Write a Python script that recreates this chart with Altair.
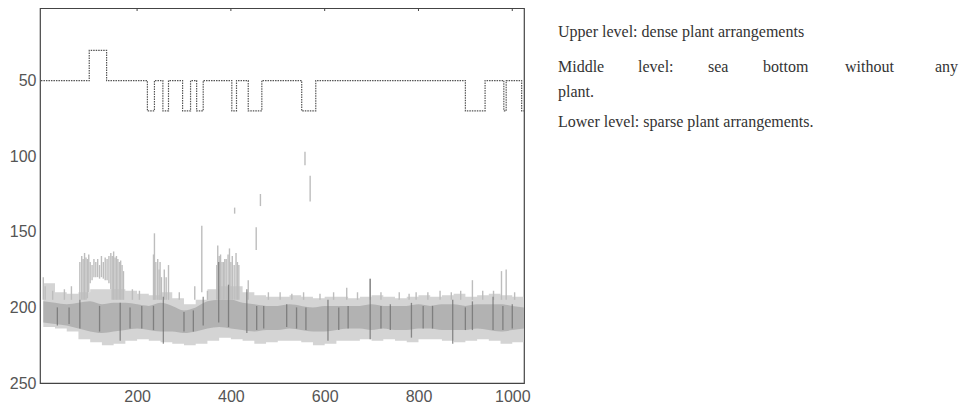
import altair as alt
import pandas as pd

# ---- step line (classification levels) ----
step_x = [-5, 98, 135, 222, 237, 255, 267, 297, 314, 327, 341, 402, 412, 437, 466,
          551, 581, 900, 942, 982, 987, 1020, 1025]
step_level = [50, 30, 50, 70, 50, 70, 50, 70, 50, 70, 50, 70, 50, 70, 50,
              70, 50, 70, 50, 70, 50, 70, 70]

# ---- echo band envelopes ----
band_x = [0, 25, 50, 75, 100, 125, 150, 175, 200, 225, 250, 275, 300, 325, 350, 375, 400,
          425, 450, 475, 500, 525, 550, 575, 600, 625, 650, 675, 700, 725, 750, 775, 800,
          825, 850, 875, 900, 925, 950, 975, 1000, 1025]
band_top = [184, 190, 191, 190, 188, 188, 188, 189, 191, 192, 190, 194, 198, 195, 188, 186, 186,
            190, 192, 193, 193, 192, 193, 194, 193, 193, 194, 193, 192, 193, 194, 193, 192,
            193, 192, 191, 193, 192, 191, 192, 193, 194]
band_bottom = [213, 214, 216, 221, 223, 225, 224, 222, 221, 222, 223, 224, 225, 224, 222, 220, 221,
               222, 224, 223, 222, 222, 223, 225, 224, 222, 222, 221, 222, 221, 222, 223, 221,
               221, 222, 223, 222, 221, 222, 224, 223, 222]
core_top = [196, 197, 198, 197, 196, 198, 197, 197, 198, 199, 197, 199, 202, 200, 196, 195, 195,
            197, 198, 199, 199, 198, 199, 200, 199, 199, 199, 199, 198, 199, 199, 199, 198,
            199, 198, 198, 199, 198, 198, 198, 199, 200]
core_bottom = [210, 211, 212, 214, 216, 217, 216, 215, 214, 215, 216, 216, 217, 216, 214, 213, 214,
               215, 216, 215, 215, 214, 215, 216, 216, 215, 214, 214, 215, 214, 215, 215, 214,
               214, 215, 215, 215, 214, 215, 216, 215, 214]

# ---- light vertical echoes rising above the band ----
spike_x = [0, 4, 78, 82, 85, 88, 91, 94, 97, 100, 104, 108, 112, 116, 120, 124, 128, 132, 136,
           140, 144, 147, 150, 153, 156, 159, 162, 165, 168, 171,
           235, 237, 240, 244, 247, 249, 252, 258, 262, 267, 323, 338,
           370, 372, 375, 378, 381, 384, 387, 390, 394, 397, 400, 403, 407, 411, 414, 417,
           408, 437, 454, 463, 555, 558, 569, 619, 647, 697, 759, 795, 846, 915, 937, 977, 987,
           20, 45, 60, 190, 205, 290, 350, 480, 505, 530, 590, 670, 720, 780, 820, 870, 890, 960, 1005]
spike_top = [180, 186, 170, 166, 168, 164, 167, 168, 165, 170, 172, 168, 170, 168, 172, 166, 170, 167, 168,
             166, 164, 166, 163, 167, 166, 168, 170, 169, 172, 176,
             165, 151, 170, 168, 175, 170, 180, 175, 180, 172, 186, 146,
             172, 159, 166, 165, 170, 170, 168, 168, 165, 161, 170, 166, 172, 164, 170, 172,
             134, 182, 147, 125, 190, 97, 113, 190, 187, 181, 190, 190, 189, 182, 189, 176, 175,
             189, 188, 186, 188, 189, 190, 189, 190, 190, 191, 191, 190, 190, 191, 190, 190, 189, 189, 190]
spike_bottom = [195, 195, 195, 195, 195, 195, 195, 194, 190, 184, 182, 180, 180, 180, 181, 180, 181, 182, 182,
                184, 188, 195, 195, 195, 195, 195, 195, 195, 195, 195,
                195, 195, 195, 195, 195, 195, 195, 195, 195, 195, 195, 190,
                195, 195, 195, 195, 195, 195, 195, 195, 195, 195, 195, 195, 195, 195, 195, 195,
                138, 195, 162, 133, 195, 106, 130, 195, 195, 195, 195, 195, 195, 195, 195, 195, 195,
                195, 195, 195, 195, 195, 195, 195, 195, 195, 195, 195, 195, 195, 195, 195, 195, 195, 195, 195]

# ---- darker vertical streaks inside the band ----
streak_x = [78, 164, 256, 341, 374, 434, 519, 607, 697, 785, 873, 959,
            30, 120, 210, 300, 395, 470, 560, 650, 740, 830, 915, 1000,
            55, 185, 235, 320, 455, 540, 630, 720, 810, 900, 980]
streak_top = [195, 197, 193, 193, 170, 188, 198, 195, 181, 197, 195, 193,
              200, 199, 199, 203, 185, 199, 200, 199, 198, 199, 196, 198,
              200, 200, 199, 202, 199, 200, 200, 199, 199, 200, 199]
streak_bottom = [214, 222, 224, 212, 210, 217, 213, 222, 221, 220, 224, 215,
                 212, 216, 214, 216, 213, 214, 215, 214, 215, 214, 215, 214,
                 211, 214, 215, 216, 215, 214, 215, 214, 214, 215, 215]

# ---- axis ticks and annotation text ----
x_ticks = [200, 400, 600, 800, 1000]
y_ticks = [50, 100, 150, 200, 250]
line1 = "Upper level: dense plant arrangements"
line2_words = ["Middle", "level:", "sea", "bottom", "without", "any"]
line2_x = [518, 598, 668, 723, 805, 895]
line3 = "plant."
line4 = "Lower level: sparse plant arrangements."

XS = alt.Scale(domain=[-7, 1025], nice=False, zero=False)
YS = alt.Scale(domain=[2, 250], reverse=True, nice=False, zero=False)

step_df = pd.DataFrame({"x": step_x, "y": step_level})
band_df = pd.DataFrame({"x": band_x, "top": band_top, "bot": band_bottom,
                        "ctop": core_top, "cbot": core_bottom})
spike_df = pd.DataFrame({"x": spike_x, "top": spike_top, "bot": spike_bottom})
streak_df = pd.DataFrame({"x": streak_x, "top": streak_top, "bot": streak_bottom})
tick_df = pd.DataFrame({"x": x_ticks})

x_axis = alt.Axis(values=x_ticks, format="d", labelFontSize=16, labelColor="#555555",
                  labelFont="Liberation Sans", tickSize=0, domain=False, grid=False,
                  title=None, labelPadding=5)
y_axis = alt.Axis(values=y_ticks, format="d", labelFontSize=16, labelColor="#555555",
                  labelFont="Liberation Sans", tickSize=0, domain=False, grid=False,
                  title=None, labelPadding=4)

outer = alt.Chart(band_df).mark_area(color="#cfcfcf", opacity=0.9, interpolate="step-after").encode(
    x=alt.X("x:Q", scale=XS, axis=x_axis),
    y=alt.Y("top:Q", scale=YS, axis=y_axis),
    y2="bot:Q",
)
core = alt.Chart(band_df).mark_area(color="#ababab", opacity=0.85, interpolate="monotone").encode(
    x=alt.X("x:Q", scale=XS), y=alt.Y("ctop:Q", scale=YS), y2="cbot:Q",
)
spikes = alt.Chart(spike_df).mark_rule(color="#bdbdbd", strokeWidth=1.4).encode(
    x=alt.X("x:Q", scale=XS), y=alt.Y("top:Q", scale=YS), y2="bot:Q",
)
streaks = alt.Chart(streak_df).mark_rule(color="#6e6e6e", strokeWidth=1.3, opacity=0.75).encode(
    x=alt.X("x:Q", scale=XS), y=alt.Y("top:Q", scale=YS), y2="bot:Q",
)
steps = alt.Chart(step_df).mark_line(color="#555555", strokeWidth=1.2, strokeDash=[1.5, 1],
                                     interpolate="step-after").encode(
    x=alt.X("x:Q", scale=XS), y=alt.Y("y:Q", scale=YS),
)
top_ticks = alt.Chart(tick_df).mark_rule(color="#444444", strokeWidth=1).encode(
    x=alt.X("x:Q", scale=XS), y=alt.value(0), y2=alt.value(3),
)

txt_style = dict(font="Liberation Serif", fontSize=16, color="#333333", align="left", baseline="alphabetic")
t1 = alt.Chart(pd.DataFrame({"t": [line1]})).mark_text(**txt_style).encode(
    text="t:N", x=alt.value(518), y=alt.value(29))
t2 = alt.Chart(pd.DataFrame({"t": line2_words, "px": line2_x})).mark_text(**txt_style).encode(
    text="t:N", x=alt.X("px:Q", scale=None), y=alt.value(64))
t3 = alt.Chart(pd.DataFrame({"t": [line3]})).mark_text(**txt_style).encode(
    text="t:N", x=alt.value(518), y=alt.value(89))
t4 = alt.Chart(pd.DataFrame({"t": [line4]})).mark_text(**txt_style).encode(
    text="t:N", x=alt.value(518), y=alt.value(119))

chart = alt.layer(outer, core, spikes, streaks, steps, top_ticks, t1, t2, t3, t4).properties(
    width=484, height=375,
    autosize=alt.AutoSizeParams(type="none"),
    padding={"left": 32, "top": 0, "right": 442, "bottom": 25},
    background="white",
).configure_view(stroke="#444444", strokeWidth=1.2)

chart.save("out.html", embed_options={"renderer": "svg", "actions": False})
